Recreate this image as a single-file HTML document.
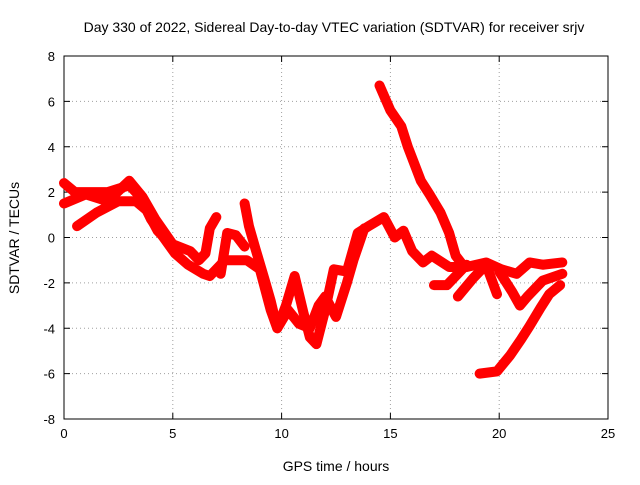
<!DOCTYPE html>
<html><head><meta charset="utf-8"><style>
body{margin:0;background:#fff;}
svg{font-family:"Liberation Sans",sans-serif;}
</style></head><body>
<svg width="640" height="480" viewBox="0 0 640 480">
<text x="334" y="32" text-anchor="middle" font-size="14">Day 330 of 2022, Sidereal Day-to-day VTEC variation (SDTVAR) for receiver srjv</text>
<g id="grid"></g>
<g id="axes"></g>
<g id="series"></g>
<text x="336" y="471" text-anchor="middle" font-size="14">GPS time / hours</text>
<text x="19" y="238" text-anchor="middle" font-size="14" transform="rotate(-90 19 238)">SDTVAR / TECUs</text>
<script>
const xTicks=[0,5,10,15,20,25];
const yTicks=[-8,-6,-4,-2,0,2,4,6,8];
const seriesA=[[0,2.4],[0.5,2.0],[1,2],[2,2],[3,2.3],[3.5,1.8],[4,0.8],[4.5,0.1],[5.1,-0.7],[5.7,-1.2],[6.4,-1.6],[6.7,-1.7],[7.4,-1.0],[8.4,-1.0],[9.0,-1.4],[9.5,-3.2],[9.8,-4.0],[10.2,-3.0],[10.6,-1.7],[11.0,-3.3],[11.3,-4.4],[11.6,-4.7],[12.0,-3.2],[12.4,-1.4],[13.0,-1.5],[13.5,0.2],[14.0,0.5],[14.7,0.9],[15.2,0.0],[15.6,0.3],[16.0,-0.6],[16.5,-1.1],[16.9,-0.8],[17.7,-1.3],[18.5,-1.3],[19.4,-1.1],[20.1,-1.4],[20.8,-1.6],[21.4,-1.1],[22.0,-1.2],[22.9,-1.1]];
const seriesB=[[14.5,6.7],[15,5.6],[15.5,4.9],[15.8,4.0],[16.2,3.0],[16.4,2.5],[16.8,1.9],[17.3,1.1],[17.7,0.2],[18.0,-0.8],[18.4,-1.3]];
const seriesC=[[19.1,-6.0],[19.9,-5.9],[20.5,-5.2],[21.0,-4.5],[21.4,-3.9],[21.9,-3.1],[22.3,-2.5],[22.8,-2.1]];
const seriesD=[[0,1.5],[1,1.9],[2,1.6],[3,2.5],[3.6,1.8],[4.2,0.8],[5,-0.3],[5.8,-0.6],[6.2,-1.0],[6.5,-0.7],[6.7,0.4],[7.0,0.9]];
const seriesE=[[0.6,0.5],[1.5,1.1],[2.5,1.6],[3.3,1.6],[3.8,1.2],[4.3,0.3],[5.0,-0.4]];
const seriesF=[[8.3,1.5],[8.5,0.5],[8.8,-0.5],[9.2,-1.8],[9.5,-2.8],[9.8,-4.0],[10.3,-3.2],[10.8,-3.8],[11.3,-4.0],[11.7,-3.0],[12.0,-2.6],[12.5,-3.5],[13.0,-2.0],[13.3,-1.0],[13.8,0.4]];
const seriesG=[[17.0,-2.1],[17.6,-2.1],[18.0,-1.7],[18.5,-1.2]];
const seriesH=[[18.1,-2.6],[18.8,-1.8],[19.4,-1.2],[19.9,-2.5]];
const seriesI=[[20.0,-1.5],[20.6,-2.4],[20.95,-3.0],[21.3,-2.6],[22.0,-1.9],[22.9,-1.6]];
const seriesJ=[[7.2,-1.6],[7.5,0.2],[7.9,0.1],[8.3,-0.4]];
const allSeries=[seriesA,seriesB,seriesC,seriesD,seriesE,seriesF,seriesG,seriesH,seriesI,seriesJ];
const X0=64,X1=608,Y0=419,Y1=56;
const sx=v=>X0+(v-0)/25*(X1-X0);
const sy=v=>Y0-(v+8)/16*(Y0-Y1);
const NS="http://www.w3.org/2000/svg";
function mk(t,a,p){const e=document.createElementNS(NS,t);for(const k in a)e.setAttribute(k,a[k]);p.appendChild(e);return e;}
const grid=document.getElementById('grid'),axes=document.getElementById('axes'),ser=document.getElementById('series');
xTicks.forEach(v=>{
 const l=mk('line',{x1:sx(v),x2:sx(v),y1:Y1,y2:Y0,stroke:'#a0a0a0','stroke-dasharray':'1,3'},grid);
 
 
 const t=mk('text',{x:sx(v),y:Y0+19,'text-anchor':'middle','font-size':'13'},axes);t.textContent=v;
 
 
 mk('line',{x1:sx(v),x2:sx(v),y1:Y0,y2:Y0-6,stroke:'#000'},axes);
 mk('line',{x1:sx(v),x2:sx(v),y1:Y1,y2:Y1+6,stroke:'#000'},axes);
});
yTicks.forEach(v=>{
 const l=mk('line',{x1:X0,x2:X1,y1:sy(v),y2:sy(v),stroke:'#a0a0a0','stroke-dasharray':'1,3'},grid);
 
 
 const t=mk('text',{x:X0-9,y:sy(v)+5,'text-anchor':'end','font-size':'13'},axes);t.textContent=v;
 
 
 mk('line',{x1:X0,x2:X0+6,y1:sy(v),y2:sy(v),stroke:'#000'},axes);
 mk('line',{x1:X1,x2:X1-6,y1:sy(v),y2:sy(v),stroke:'#000'},axes);
});
const fr=mk('rect',{x:X0,y:Y1,width:X1-X0,height:Y0-Y1,fill:'none',stroke:'#000'},axes);


allSeries.forEach((s,i)=>{
 const p=mk('polyline',{points:s.map(d=>sx(d[0])+','+sy(d[1])).join(' '),fill:'none',stroke:'#ff0000','stroke-width':10,'stroke-linejoin':'round','stroke-linecap':'round'},ser);
 
 
});
</script>
</svg>
</body></html>
